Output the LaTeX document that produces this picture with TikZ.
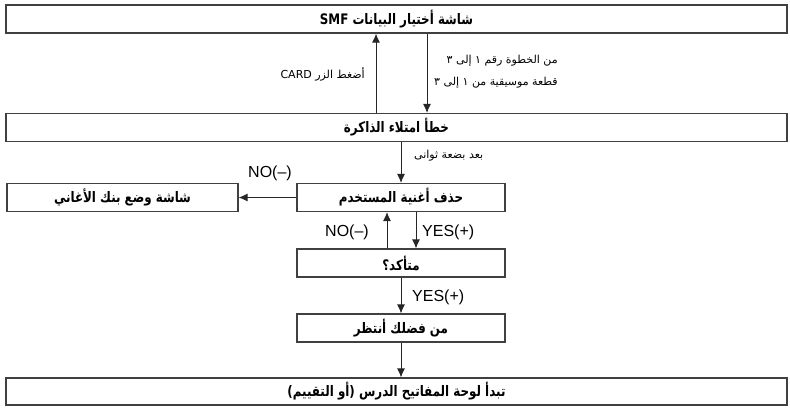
\documentclass[tikz,border=0pt]{standalone}
\usepackage{fontspec}
\setmainfont{Liberation Sans}
\newfontfamily\arabicfont[Script=Arabic]{DejaVu Sans}
\newfontfamily\arabicbox[Script=Arabic, FakeStretch=0.82]{DejaVu Sans Bold}
\TeXXeTstate=1
\usetikzlibrary{arrows.meta}

\begin{document}
\begin{tikzpicture}[x=1pt, y=-1pt,
    box/.style={draw=black!75, line width=1.2pt, inner sep=0pt, minimum height=28pt,
        font=\arabicbox\fontsize{14.5}{16}\selectfont},
    arr/.style={draw=black!85, line width=0.9pt, -{Latex[length=9pt,width=8pt]}},
    lab/.style={inner sep=1pt, font=\arabicfont\fontsize{11}{22}\selectfont},
    en/.style={inner sep=1pt, font=\fontsize{16}{18}\selectfont}]

    % --- 画布大小 ---
    \useasboundingbox (0,0) rectangle (790,408);

    % --- 参数 ---
    \def\wideW{781pt}   % 通栏框宽度
    \def\midW{208pt}    % 中间框宽度

    % --- 通栏框 ---
    \node[box, minimum width=\wideW] (smf) at (396.5,19) {\beginR شاشة أختيار البيانات SMF\endR};
    \node[box, minimum width=\wideW] (mem) at (396.5,127.5) {\beginR خطأ امتلاء الذاكرة\endR};
    \node[box, minimum width=\wideW, minimum height=27pt] (lesson) at (396.5,391.5) {\beginR تبدأ لوحة المفاتيح الدرس (أو التقييم)\endR};

    % --- 中间一列 ---
    \node[box, minimum width=\midW] (del) at (401,197.5) {\beginR حذف أغنية المستخدم\endR};
    \node[box, minimum width=\midW] (sure) at (401,263) {\beginR متأكد؟\endR};
    \node[box, minimum width=\midW] (wait) at (401,328) {\beginR من فضلك أنتظر\endR};

    % --- 左侧框 ---
    \node[box, minimum width=231pt] (bank) at (122.5,197.5) {\beginR شاشة وضع بنك الأغاني\endR};

    % --- 箭头的 x 位置 ---
    \coordinate (upx) at (376,0);
    \coordinate (dnx) at (427,0);
    \coordinate (nox) at (387,0);
    \coordinate (yesx) at (416,0);

    % --- 连线 ---
    \draw[arr] (mem.north -| upx) -- (smf.south -| upx);
    \draw[arr] (smf.south -| dnx) -- (mem.north -| dnx);
    \draw[arr] (mem.south -| del.north) -- (del.north);
    \draw[arr] (del.west) -- (bank.east);
    \draw[arr] (sure.north -| nox) -- (del.south -| nox);
    \draw[arr] (del.south -| yesx) -- (sure.north -| yesx);
    \draw[arr] (sure.south) -- (wait.north);
    \draw[arr] (wait.south) -- (lesson.north -| wait.south);

    % --- 标签 ---
    \node[lab, anchor=east] (cardlab) at (366,74) {\beginR أضغط الزر CARD\endR};
    \node[lab, anchor=west, align=right] (steplab) at (433,72)
        {\beginR من الخطوة رقم ١ إلى ٣\endR\\\beginR قطعة موسيقية من ١ إلى ٣\endR};
    \node[lab, anchor=west] (seclab) at (413,156) {\beginR بعد بضعة ثوانى\endR};
    \node[en] (no1) at (270,173) {NO(–)};
    \node[en, anchor=east] (no2) at (370,232) {NO(–)};
    \node[en, anchor=west] (yes1) at (421,232) {YES(+)};
    \node[en, anchor=west] (yes2) at (411,297) {YES(+)};

\end{tikzpicture}
\end{document}
